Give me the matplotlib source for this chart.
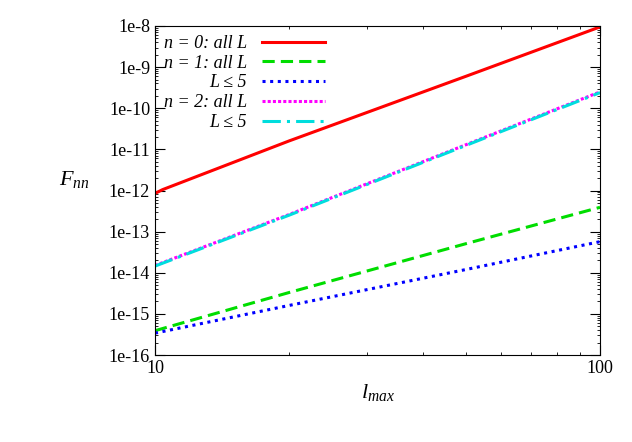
import numpy as np
import matplotlib.pyplot as plt
from matplotlib.ticker import NullFormatter

lmax = [10, 20, 50, 100]
red_lmax = [10, 10.4, 20, 50, 100]
n0_all = [8.5e-13, 1.05e-12, 1.6e-11, 6.0e-10, 9.5e-9]
n1_all = [3.9e-16, 3.3e-15, 5.1e-14, 3.9e-13]
n1_l5 = [3.4e-16, 1.6e-15, 1.2e-14, 5.7e-14]
n2_all = [1.5e-14, 2.6e-13, 1.3e-11, 2.5e-10]
n2_l5 = [1.45e-14, 2.5e-13, 1.25e-11, 2.4e-10]

plt.rcParams['font.family'] = 'serif'
plt.rcParams['font.serif'] = ['Liberation Serif', 'DejaVu Serif']
plt.rcParams['mathtext.fontset'] = 'custom'
plt.rcParams['mathtext.rm'] = 'Liberation Serif'
plt.rcParams['mathtext.it'] = 'Liberation Serif:italic'
fig = plt.figure(figsize=(6.32, 4.42), dpi=100)
ax = fig.add_axes([155/632, 1-355/442, 445/632, 329/442])
ax.plot(red_lmax, n0_all, color='#ff0000', lw=2.2, label='n = 0: all L')
ax.plot(lmax, n1_all, color='#00dd00', lw=2.2, ls=(0, (4, 2)), label='n = 1: all L')
ax.plot(lmax, n1_l5, color='#0000ff', lw=2.2, ls=(0, (1, 1.5)), label='L ≤ 5')
ax.plot(lmax, n2_all, color='#ff00ff', lw=2.2, ls=(0, (1, 0.7)), label='n = 2: all L')
ax.plot(lmax, n2_l5, color='#00dddd', lw=2.2, ls=(0, (6, 2, 1, 2)), label='L ≤ 5')
ax.set_xscale('log')
ax.set_yscale('log')
ax.set_xlim(10, 100)
ax.set_ylim(1e-16, 1e-8)
ax.set_xticks([10, 100])
ax.set_xticklabels(['10', '100'])
ax.xaxis.set_minor_formatter(NullFormatter())
ax.set_yticks([10.0**k for k in range(-16, -7)])
ax.set_yticklabels(['1e%d' % k for k in range(-16, -7)])
ax.tick_params(which='both', direction='in', top=True, right=True, labelsize=13)
ax.tick_params(which='major', length=7)
ax.set_xlabel('$l_{max}$', fontsize=16)
ax.set_ylabel('$F_{nn}$', fontsize=16, rotation=0, labelpad=25)
leg = ax.legend(loc='upper left', frameon=False, fontsize=13, handlelength=3.5,
                markerfirst=False, borderaxespad=0.1, labelspacing=0.15)
for t in leg.get_texts():
    t.set_ha('right')
    t.set_fontstyle('italic')
fig.savefig('out.png', dpi=100)
